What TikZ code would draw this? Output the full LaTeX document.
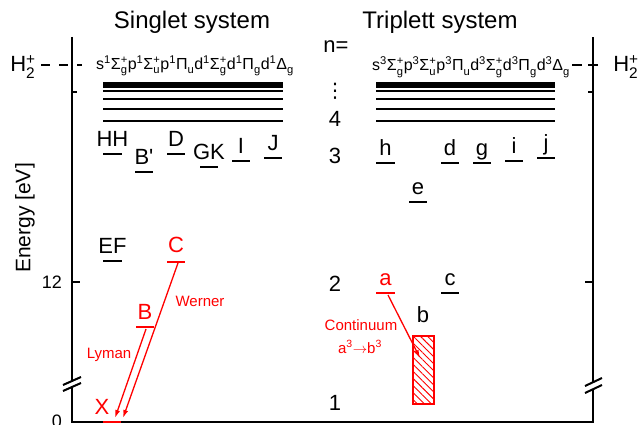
\documentclass[tikz,border=0pt]{standalone}
\usepackage{amsmath}
\usepackage{fontspec}
\setmainfont{Liberation Sans}[Ligatures=TeXOff]
\newfontfamily\symfont{DejaVu Sans}
\usepackage{tikz}
\usetikzlibrary{arrows.meta,patterns.meta}
\definecolor{allowedred}{RGB}{255,0,0}
\newcommand{\cfg}[5]{#1$^{\text{#2}}$#3$^{\text{#4}}_{\text{#5}}$}

\begin{document}
\begin{tikzpicture}[x=1pt, y=-1pt,
  axis/.style={line width=2.4pt},
  tick/.style={line width=2pt},
  lvl/.style={line width=2.5pt},
  rydberg/.style={line width=2.2pt},
  lbl/.style={anchor=base, yshift=7pt, inner sep=0pt, font=\fontsize{22}{22}\selectfont},
  big/.style={font=\fontsize{22}{22}\selectfont},
  small/.style={font=\fontsize{15}{15}\selectfont},
  trans/.style={allowedred, line width=1.3pt, -{Latex[length=8pt,width=5pt]}}]
  \useasboundingbox (0,0) rectangle (638,425);

  % --- frame with axis breaks ---
  \draw[axis] (72,37) -- (72,381);
  \draw[axis] (72,387) -- (72,422) -- (593,422) -- (593,389);
  \draw[axis] (593,382) -- (593,37);
  \draw[tick] (63,385) -- (81,377);
  \draw[tick] (63,391) -- (81,383);
  \draw[tick] (585,386) -- (602,378);
  \draw[tick] (585,393) -- (602,385);
  \draw[tick] (72,92) -- (77,92);
  \draw[tick] (72,282) -- (80,282);
  \draw[tick] (593,92) -- (588,92);
  \draw[tick] (593,282) -- (585,282);
  \node[font=\fontsize{18}{18}\selectfont] (e12) at (52,282) {12};
  \node[font=\fontsize{18}{18}\selectfont] (e0) at (57,421) {0};
  \node[rotate=90, font=\fontsize{21}{21}\selectfont] (energy) at (25,218) {Energy [eV]};

  % ionisation limit
  \node[big] (ionl) at (23,67) {H$_{\text{2}}^{\text{+}}$};
  \node[big] (ionr) at (626,67) {H$_{\text{2}}^{\text{+}}$};
  \draw[line width=1.6pt, dash pattern=on 9pt off 9pt] (ionl.east) ++(2,-2) coordinate (ionla) -- (82,65);
  \draw[line width=1.6pt, dash pattern=on 10pt off 6pt] (572,65) -- (601,65);

  % titles and n column
  \node[font=\fontsize{24}{24}\selectfont] (singlet) at (192,22) {Singlet system};
  \node[font=\fontsize{24}{24}\selectfont] (triplet) at (440,22) {Triplett system};
  \node[big] (neq) at (336,47) {n=};
  \node[inner sep=0pt, font=\fontsize{20}{20}\selectfont\symfont] (ndots) at (335,91) {⋮};
  \node[big] (n4) at (335,119) {4};
  \node[big] (n3) at (335,156) {3};
  \node[big] (n2) at (335,284) {2};
  \node[big] (n1) at (335,403) {1};

  % --- Rydberg series ---
  \node[font=\fontsize{16}{16}\selectfont] (singcfg) at (195,66)
    {\cfg{s}{1}{Σ}{+}{g}\cfg{p}{1}{Σ}{+}{u}\cfg{p}{1}{Π}{}{u}\cfg{d}{1}{Σ}{+}{g}\cfg{d}{1}{Π}{}{g}\cfg{d}{1}{Δ}{}{g}};
  \node[font=\fontsize{16}{16}\selectfont] (tripcfg) at (471,67)
    {\cfg{s}{3}{Σ}{+}{g}\cfg{p}{3}{Σ}{+}{u}\cfg{p}{3}{Π}{}{u}\cfg{d}{3}{Σ}{+}{g}\cfg{d}{3}{Π}{}{g}\cfg{d}{3}{Δ}{}{g}};
  \foreach \yy in {121,109,99,91,87,85,83} {
    \draw[rydberg] (103,\yy) -- (283,\yy);
    \draw[rydberg] (376,\yy) -- (555,\yy);
  }

  % --- singlet levels ---
  \draw[lvl] (103,154) -- (122,154) node[midway, lbl] (hh) {HH};
  \draw[lvl] (135,172) -- (153,172) node[midway, lbl] (bp) {B'};
  \draw[lvl] (167,154) -- (185,154) node[midway, lbl] (d1) {D};
  \draw[lvl] (200,167) -- (218,167) node[midway, lbl] (gk) {GK};
  \draw[lvl] (232,161) -- (250,161) node[midway, lbl] (i1) {I};
  \draw[lvl] (264,158) -- (282,158) node[midway, lbl] (j1) {J};
  \draw[lvl] (103,261) -- (122,261) node[midway, lbl] (ef) {EF};
  \draw[lvl, allowedred] (167,262) -- (185,262) node[midway, lbl, yshift=2pt] (c1) {C};
  \draw[lvl, allowedred] (136,327) -- (154,327) node[midway, lbl, yshift=1pt] (b1) {B};
  \draw[lvl, allowedred] (103,422) -- (121,422) node[midway, lbl, yshift=1pt, xshift=-10pt] (x1) {X};

  % Lyman and Werner bands
  \coordinate (lymanstart) at (146,329);
  \coordinate (lymanend) at (115,418);
  \coordinate (wernerstart) at (178,263);
  \coordinate (wernerend) at (123,418);
  \draw[trans] (lymanstart) -- (lymanend);
  \draw[trans] (wernerstart) -- (wernerend);
  \node[small, allowedred] (lyman) at (109,355) {Lyman};
  \node[small, allowedred] (werner) at (200,301) {Werner};

  % --- triplet levels ---
  \draw[lvl] (376,163) -- (395,163) node[midway, lbl] (h3) {h};
  \draw[lvl] (409,202) -- (427,202) node[midway, lbl] (e3) {e};
  \draw[lvl] (441,163) -- (459,163) node[midway, lbl] (d3) {d};
  \draw[lvl] (473,163) -- (491,163) node[midway, lbl] (g3) {g};
  \draw[lvl] (505,161) -- (523,161) node[midway, lbl] (i3) {i};
  \draw[lvl] (537,158) -- (555,158) node[midway, lbl] (j3) {j};
  \draw[lvl, allowedred] (376,293) -- (395,293) node[midway, lbl, yshift=1pt] (a3) {a};
  \draw[lvl] (441,293) -- (459,293) node[midway, lbl] (c3) {c};

  % repulsive b state
  \draw[allowedred, line width=1.5pt, pattern={Lines[angle=-45, distance=5pt, line width=0.9pt]}, pattern color=allowedred]
    (413,336) rectangle (434,404);
  \node[lbl] (b3) at (423,329) {b};
  \coordinate (contstart) at (388,295);
  \coordinate (contend) at (420,358);
  \draw[trans] (contstart) -- (contend);
  \node[small, allowedred] (cont) at (361,325) {Continuum};
  \node[small, allowedred] (contab) at (360,347) {a$^{\text{3}}$$\to$b$^{\text{3}}$};
\end{tikzpicture}
\end{document}
